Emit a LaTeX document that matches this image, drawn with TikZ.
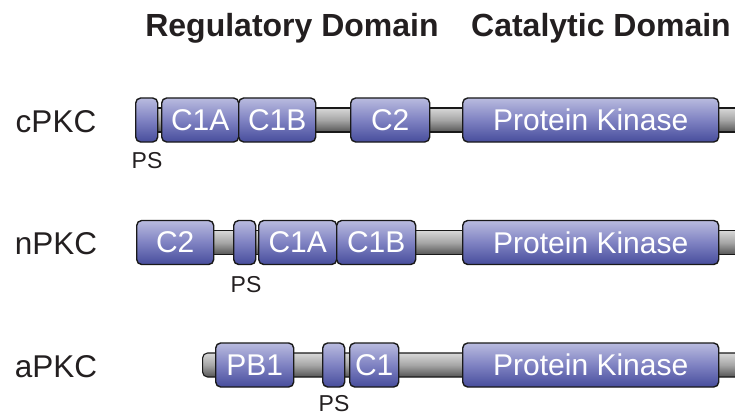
\documentclass[tikz,border=0pt]{standalone}
\usepackage{fontspec}
\setmainfont{Liberation Sans}
\definecolor{txt}{HTML}{231F20}
\definecolor{dtop}{HTML}{B9BBDF}
\definecolor{dmid}{HTML}{7F82C2}
\definecolor{dbot}{HTML}{474D9C}
\definecolor{btop}{HTML}{D8D8D8}
\definecolor{bmid}{HTML}{A6A6A6}
\definecolor{bbot}{HTML}{555555}
\tikzset{
  dom/.style={draw=black!90, line width=1.4pt, rounded corners=5pt,
    top color=dtop, bottom color=dbot, middle color=dmid, shading angle=0,
    minimum height=44pt, inner sep=0pt, text=white,
    font=\fontsize{30}{31}\selectfont, anchor=west},
  bar/.style={draw=black!90, line width=1.1pt,
    top color=btop, bottom color=bbot, middle color=bmid,
    minimum height=24pt, inner sep=0pt, anchor=west},
  rowlabel/.style={text=txt, font=\fontsize{31.5}{32}\selectfont, anchor=base, inner sep=0pt},
  pslabel/.style={text=txt, font=\fontsize{23}{24}\selectfont, anchor=base, inner sep=0pt},
  head/.style={text=txt, font=\fontsize{32}{33}\selectfont\bfseries, anchor=base, inner sep=0pt}
}
\begin{document}
\begin{tikzpicture}[x=1pt,y=-1pt]
\useasboundingbox (0,0) rectangle (735,417);
% headers
\node[head] (hreg) at (292,37) {Regulatory Domain};
\node[head] (hcat) at (601,37) {Catalytic Domain};
% row labels
\node[rowlabel] (lc) at (56,132) {cPKC};
\node[rowlabel] (ln) at (56,254.5) {nPKC};
\node[rowlabel] (la) at (56,377) {aPKC};
% ---- cPKC ----
\node[bar, minimum width=620pt] (bar1) at (136,120) {};
\node[dom, minimum width=22pt] (ps1) at (135,120) {};
\node[dom, minimum width=77pt] (c1a1) at (161,120) {C1A};
\node[dom, minimum width=77pt] (c1b1) at (238,120) {C1B};
\node[dom, minimum width=79pt] (c21) at (350,120) {C2};
\node[dom, minimum width=256pt] (pk1) at (462,120) {Protein Kinase};
\node[pslabel] (psl1) at (147,168) {PS};
% ---- nPKC ----
\node[bar, minimum width=620pt] (bar2) at (137,242.5) {};
\node[dom, minimum width=77pt] (c22) at (136,242.5) {C2};
\node[dom, minimum width=22pt] (ps2) at (233,242.5) {};
\node[dom, minimum width=78pt] (c1a2) at (258,242.5) {C1A};
\node[dom, minimum width=79pt] (c1b2) at (336,242.5) {C1B};
\node[dom, minimum width=256pt] (pk2) at (462,242.5) {Protein Kinase};
\node[pslabel] (psl2) at (246,292) {PS};
% ---- aPKC ----
\node[bar, minimum width=560pt, rounded corners=5pt] (bar3) at (202,365) {};
\node[dom, minimum width=78pt] (pb13) at (215,365) {PB1};
\node[dom, minimum width=22pt] (ps3) at (322,365) {};
\node[dom, minimum width=49pt] (c13) at (349,365) {C1};
\node[dom, minimum width=256pt] (pk3) at (462,365) {Protein Kinase};
\node[pslabel] (psl3) at (334,411.5) {PS};
\end{tikzpicture}
\end{document}
